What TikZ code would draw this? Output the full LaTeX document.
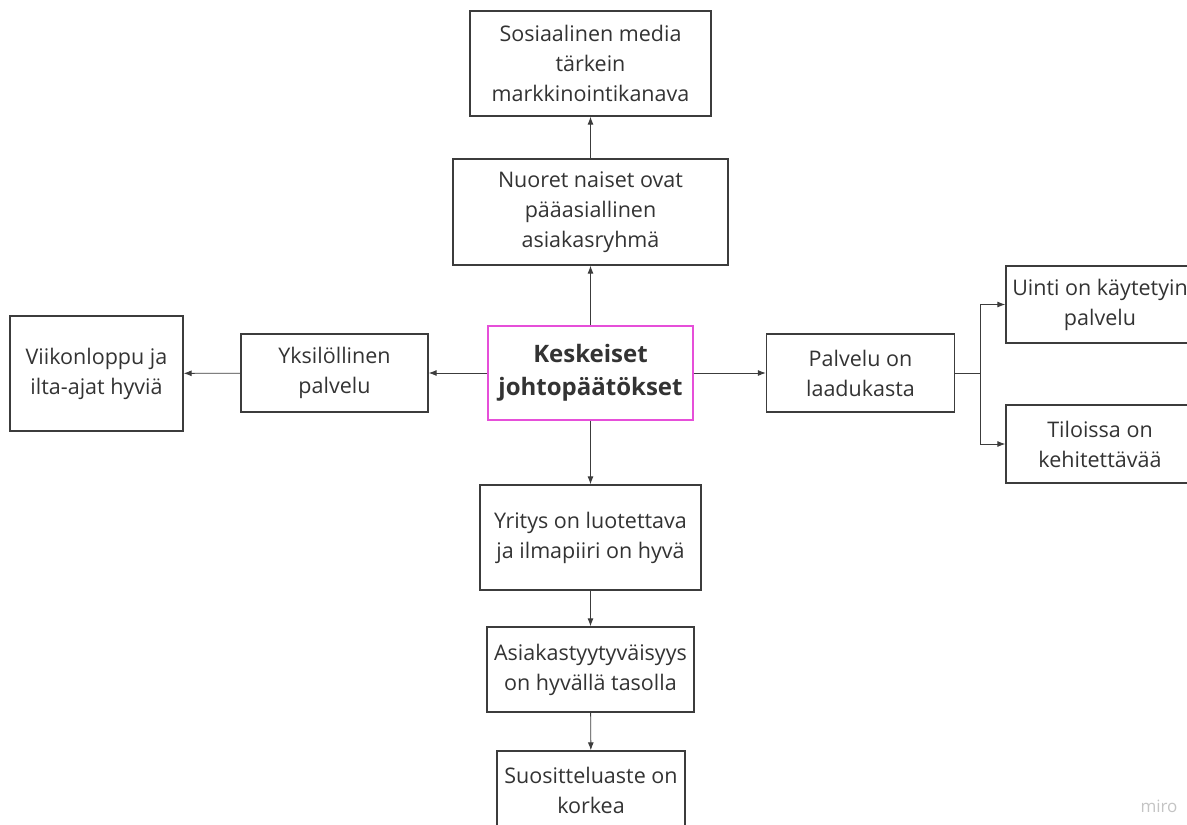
\documentclass[tikz,border=0pt]{standalone}
\usepackage{fontspec}
\setmainfont{Open Sans}
\usepackage{xcolor}
\usepackage{tikz}
\usetikzlibrary{arrows.meta, positioning}

\definecolor{boxline}{HTML}{3C3C3C}
\definecolor{txt}{HTML}{333333}
\definecolor{hub}{HTML}{E64FD9}
\definecolor{wm}{HTML}{C4C4C4}

\begin{document}
\begin{tikzpicture}[
  x=1pt, y=-1pt,
  every node/.style={font=\fontsize{21.5}{30}\selectfont, text=txt},
  box/.style={draw=boxline, line width=1.3pt, fill=white, align=center,
              inner sep=0pt},
  hubbox/.style={box, draw=hub, line width=1.8pt,
                 font=\fontsize{24}{33}\selectfont\bfseries},
  arr/.style={draw=boxline, line width=0.9pt,
              -{Latex[length=8pt,width=6pt]}},
  ln/.style ={draw=boxline, line width=0.9pt}
]
\path[use as bounding box] (0,0) rectangle (1187,825);
\clip (0,0) rectangle (1187,825);

%% center
\node[hubbox, minimum width=205pt, minimum height=94pt] (kes) at (590.5,373)
  {Keskeiset\\johtopäätökset};

%% upwards
\node[box, minimum width=275pt, minimum height=106pt] (nuo) at (590.5,212)
  {Nuoret naiset ovat\\pääasiallinen\\asiakasryhmä};
\node[box, minimum width=241pt, minimum height=105pt] (som) at (590.5,63.5)
  {Sosiaalinen media\\tärkein\\markkinointikanava};

%% left
\node[box, minimum width=187pt, minimum height=78pt] (yks) at (334.5,373)
  {Yksilöllinen\\palvelu};
\node[box, minimum width=173pt, minimum height=115pt] (vii) at (96.5,373.5)
  {Viikonloppu ja\\ilta-ajat hyviä};

%% right
\node[box, minimum width=188pt, minimum height=78pt] (pal) at (860.5,373)
  {Palvelu on\\laadukasta};
\node[box, minimum width=188pt, minimum height=77pt] (uin) at (1100,304.5)
  {Uinti on käytetyin\\palvelu};
\node[box, minimum width=188pt, minimum height=78pt] (til) at (1100,444)
  {Tiloissa on\\kehitettävää};

%% downwards
\node[box, minimum width=221pt, minimum height=105pt] (yri) at (590.5,537.5)
  {Yritys on luotettava\\ja ilmapiiri on hyvä};
\node[box, minimum width=207pt, minimum height=85pt] (asi) at (590.5,669.5)
  {Asiakastyytyväisyys\\on hyvällä tasolla};
\node[box, minimum width=188pt, minimum height=78pt] (suo) at (591,790)
  {Suositteluaste on\\korkea};

%% connectors
\foreach \a/\b in {kes/nuo, nuo/som, kes/yks, yks/vii, kes/pal,
                   kes/yri, yri/asi, asi/suo}
  \draw[arr] (\a)--(\b);

\coordinate (br) at (980,373);
\draw[ln] (pal.east) -- (br);
\draw[arr] (br) |- (uin.west);
\draw[arr] (br) |- (til.west);

%% watermark
\node[text=wm, font=\fontsize{17}{19}\selectfont] (miro) at (1159,806) {miro};
\end{tikzpicture}
\end{document}
